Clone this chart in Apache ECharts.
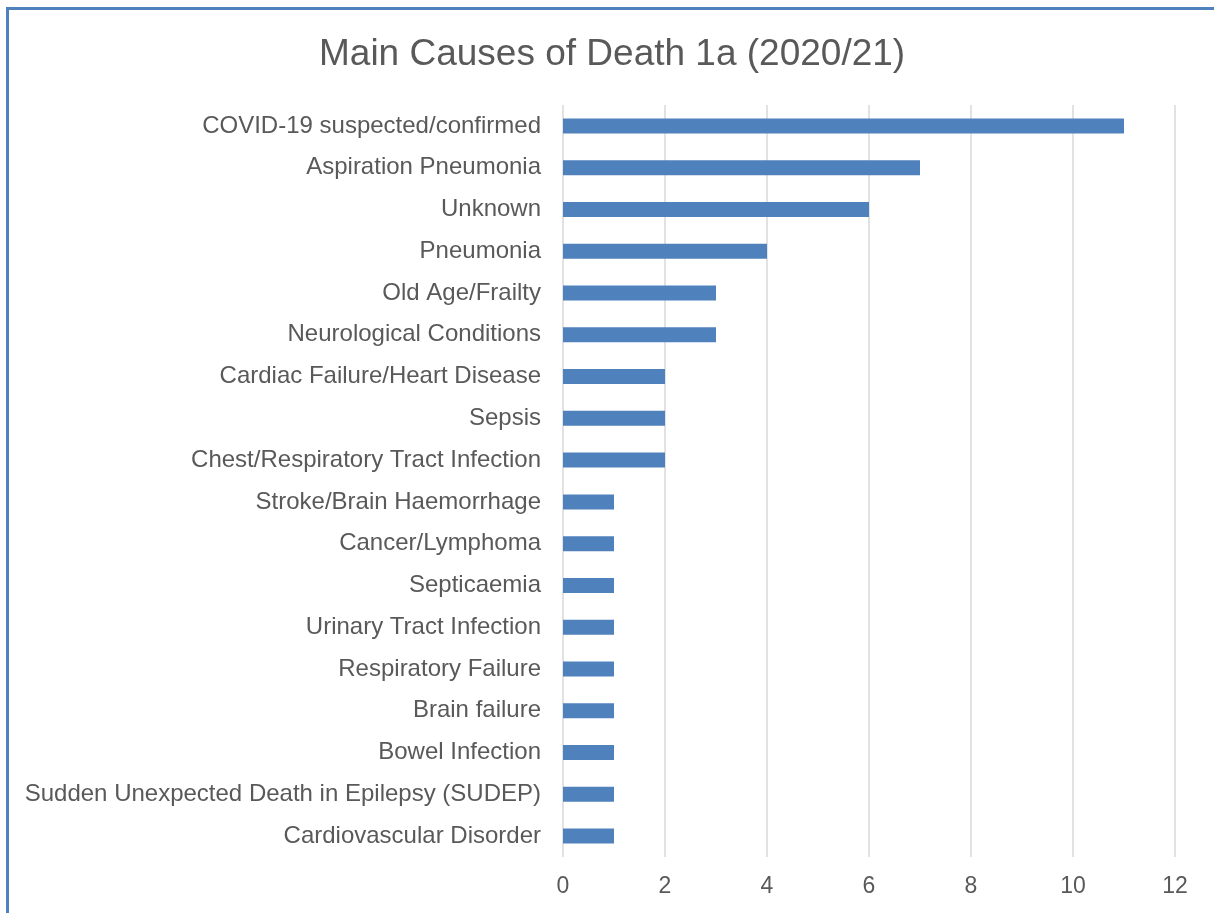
<!DOCTYPE html>
<html>
<head>
<meta charset="utf-8">
<script src="https://cdn.jsdelivr.net/npm/echarts@6/dist/echarts.min.js"></script>
<style>
html,body{margin:0;padding:0;background:#fff;overflow:hidden;}
#frame{position:absolute;left:6px;top:7px;width:1230px;height:940px;border:3px solid #4f81bd;box-sizing:border-box;}
#chart{position:absolute;left:0;top:0;width:1214px;height:913px;}
</style>
</head>
<body>
<div id="frame"></div>
<div id="chart"></div>
<script>
const categories = [
  "COVID-19 suspected/confirmed",
  "Aspiration Pneumonia",
  "Unknown",
  "Pneumonia",
  "Old Age/Frailty",
  "Neurological Conditions",
  "Cardiac Failure/Heart Disease",
  "Sepsis",
  "Chest/Respiratory Tract Infection",
  "Stroke/Brain Haemorrhage",
  "Cancer/Lymphoma",
  "Septicaemia",
  "Urinary Tract Infection",
  "Respiratory Failure",
  "Brain failure",
  "Bowel Infection",
  "Sudden Unexpected Death in Epilepsy (SUDEP)",
  "Cardiovascular Disorder"
];
const values = [11, 7, 6, 4, 3, 3, 2, 2, 2, 1, 1, 1, 1, 1, 1, 1, 1, 1];
const xTicks = [0, 2, 4, 6, 8, 10, 12];

const FONT = 'Liberation Sans, Arial, sans-serif';
const chart = echarts.init(document.getElementById('chart'), null, {renderer: 'canvas'});
chart.setOption({
  backgroundColor: 'transparent',
  animation: false,
  textStyle: {fontFamily: FONT},
  title: {
    text: 'Main Causes of Death 1a (2020/21)',
    left: 314,
    top: 31,
    textStyle: {fontSize: 37, fontWeight: 'normal', color: '#595959', fontFamily: FONT}
  },
  grid: {left: 563, right: 39, top: 105, bottom: 56, containLabel: false},
  xAxis: {
    type: 'value',
    min: xTicks[0],
    max: xTicks[xTicks.length - 1],
    interval: 2,
    axisLine: {show: false},
    axisTick: {show: false},
    splitLine: {show: true, lineStyle: {color: '#d9d9d9', width: 1.5}},
    axisLabel: {fontSize: 23, color: '#595959', margin: 18, fontFamily: FONT}
  },
  yAxis: {
    type: 'category',
    inverse: true,
    data: categories,
    axisLine: {show: false},
    axisTick: {show: false},
    axisLabel: {fontSize: 24, color: '#595959', margin: 22, padding: [3, 0, 0, 0], fontFamily: FONT}
  },
  series: [{
    type: 'bar',
    data: values,
    barWidth: 15,
    itemStyle: {color: '#4f81bd'}
  }]
});
</script>
</body>
</html>
